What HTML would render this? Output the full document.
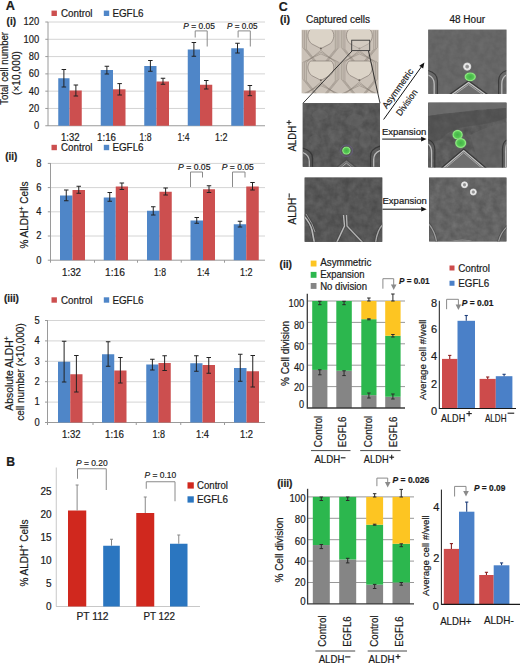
<!DOCTYPE html>
<html><head><meta charset="utf-8"><style>
html,body{margin:0;padding:0;background:#fff;width:520px;height:663px;overflow:hidden}
svg{display:block;font-family:"Liberation Sans", sans-serif}
text{stroke:#1a1a1a;stroke-width:0.2px}
</style></head><body>
<svg width="520" height="663" viewBox="0 0 520 663">
<rect width="520" height="663" fill="#fff"/>
<text x="5.80" y="10.45" font-size="13" text-anchor="start" font-weight="bold" fill="#1a1a1a" textLength="9.20" lengthAdjust="spacingAndGlyphs">A</text>
<rect x="51.50" y="10.60" width="5.40" height="5.40" fill="#cc4f4f"/>
<text x="61.00" y="16.88" font-size="10" text-anchor="start" font-weight="normal" fill="#1a1a1a" textLength="31.50" lengthAdjust="spacingAndGlyphs">Control</text>
<rect x="103.80" y="10.60" width="5.40" height="5.40" fill="#4f86c8"/>
<text x="112.40" y="16.88" font-size="10" text-anchor="start" font-weight="normal" fill="#1a1a1a" textLength="31.20" lengthAdjust="spacingAndGlyphs">EGFL6</text>
<text x="6.60" y="24.58" font-size="10" text-anchor="start" font-weight="bold" fill="#1a1a1a" textLength="9.40" lengthAdjust="spacingAndGlyphs">(i)</text>
<text x="39.20" y="129.13" font-size="10" text-anchor="end" font-weight="normal" fill="#1a1a1a" textLength="5.2" lengthAdjust="spacingAndGlyphs">0</text>
<line x1="45.30" y1="125.75" x2="48.00" y2="125.75" stroke="#9a9a9a" stroke-width="1"/>
<line x1="48.00" y1="108.46" x2="265.00" y2="108.46" stroke="#d4d4d4" stroke-width="1"/>
<text x="39.20" y="111.84" font-size="10" text-anchor="end" font-weight="normal" fill="#1a1a1a" textLength="10.4" lengthAdjust="spacingAndGlyphs">20</text>
<line x1="45.30" y1="108.46" x2="48.00" y2="108.46" stroke="#9a9a9a" stroke-width="1"/>
<line x1="48.00" y1="91.17" x2="265.00" y2="91.17" stroke="#d4d4d4" stroke-width="1"/>
<text x="39.20" y="94.55" font-size="10" text-anchor="end" font-weight="normal" fill="#1a1a1a" textLength="10.4" lengthAdjust="spacingAndGlyphs">40</text>
<line x1="45.30" y1="91.17" x2="48.00" y2="91.17" stroke="#9a9a9a" stroke-width="1"/>
<line x1="48.00" y1="73.88" x2="265.00" y2="73.88" stroke="#d4d4d4" stroke-width="1"/>
<text x="39.20" y="77.25" font-size="10" text-anchor="end" font-weight="normal" fill="#1a1a1a" textLength="10.4" lengthAdjust="spacingAndGlyphs">60</text>
<line x1="45.30" y1="73.88" x2="48.00" y2="73.88" stroke="#9a9a9a" stroke-width="1"/>
<line x1="48.00" y1="56.58" x2="265.00" y2="56.58" stroke="#d4d4d4" stroke-width="1"/>
<text x="39.20" y="59.96" font-size="10" text-anchor="end" font-weight="normal" fill="#1a1a1a" textLength="10.4" lengthAdjust="spacingAndGlyphs">80</text>
<line x1="45.30" y1="56.58" x2="48.00" y2="56.58" stroke="#9a9a9a" stroke-width="1"/>
<line x1="48.00" y1="39.29" x2="265.00" y2="39.29" stroke="#d4d4d4" stroke-width="1"/>
<text x="39.20" y="42.67" font-size="10" text-anchor="end" font-weight="normal" fill="#1a1a1a" textLength="15.6" lengthAdjust="spacingAndGlyphs">100</text>
<line x1="45.30" y1="39.29" x2="48.00" y2="39.29" stroke="#9a9a9a" stroke-width="1"/>
<line x1="48.00" y1="22.00" x2="265.00" y2="22.00" stroke="#d4d4d4" stroke-width="1"/>
<text x="39.20" y="25.38" font-size="10" text-anchor="end" font-weight="normal" fill="#1a1a1a" textLength="15.6" lengthAdjust="spacingAndGlyphs">120</text>
<line x1="45.30" y1="22.00" x2="48.00" y2="22.00" stroke="#9a9a9a" stroke-width="1"/>
<line x1="48.00" y1="22.00" x2="48.00" y2="126.00" stroke="#9a9a9a" stroke-width="1"/>
<line x1="48.00" y1="125.75" x2="265.00" y2="125.75" stroke="#9a9a9a" stroke-width="1"/>
<rect x="58.25" y="78.25" width="11.25" height="47.50" fill="#4f86c8"/>
<rect x="69.50" y="90.50" width="12.25" height="35.25" fill="#cc4f4f"/>
<rect x="100.75" y="70.00" width="12.25" height="55.75" fill="#4f86c8"/>
<rect x="113.00" y="89.30" width="12.50" height="36.45" fill="#cc4f4f"/>
<rect x="144.25" y="66.00" width="12.25" height="59.75" fill="#4f86c8"/>
<rect x="156.50" y="81.50" width="12.50" height="44.25" fill="#cc4f4f"/>
<rect x="187.75" y="49.50" width="12.25" height="76.25" fill="#4f86c8"/>
<rect x="200.00" y="84.75" width="12.25" height="41.00" fill="#cc4f4f"/>
<rect x="231.25" y="48.25" width="12.50" height="77.50" fill="#4f86c8"/>
<rect x="243.75" y="90.50" width="12.00" height="35.25" fill="#cc4f4f"/>
<line x1="63.88" y1="69.50" x2="63.88" y2="87.00" stroke="#222" stroke-width="1"/>
<line x1="61.62" y1="69.50" x2="66.12" y2="69.50" stroke="#222" stroke-width="1"/>
<line x1="61.62" y1="87.00" x2="66.12" y2="87.00" stroke="#222" stroke-width="1"/>
<line x1="75.88" y1="85.00" x2="75.88" y2="96.00" stroke="#222" stroke-width="1"/>
<line x1="73.62" y1="85.00" x2="78.12" y2="85.00" stroke="#222" stroke-width="1"/>
<line x1="73.62" y1="96.00" x2="78.12" y2="96.00" stroke="#222" stroke-width="1"/>
<line x1="106.88" y1="66.25" x2="106.88" y2="74.00" stroke="#222" stroke-width="1"/>
<line x1="104.62" y1="66.25" x2="109.12" y2="66.25" stroke="#222" stroke-width="1"/>
<line x1="104.62" y1="74.00" x2="109.12" y2="74.00" stroke="#222" stroke-width="1"/>
<line x1="119.62" y1="83.60" x2="119.62" y2="95.00" stroke="#222" stroke-width="1"/>
<line x1="117.38" y1="83.60" x2="121.88" y2="83.60" stroke="#222" stroke-width="1"/>
<line x1="117.38" y1="95.00" x2="121.88" y2="95.00" stroke="#222" stroke-width="1"/>
<line x1="150.38" y1="60.50" x2="150.38" y2="71.25" stroke="#222" stroke-width="1"/>
<line x1="148.12" y1="60.50" x2="152.62" y2="60.50" stroke="#222" stroke-width="1"/>
<line x1="148.12" y1="71.25" x2="152.62" y2="71.25" stroke="#222" stroke-width="1"/>
<line x1="163.00" y1="78.25" x2="163.00" y2="84.25" stroke="#222" stroke-width="1"/>
<line x1="160.75" y1="78.25" x2="165.25" y2="78.25" stroke="#222" stroke-width="1"/>
<line x1="160.75" y1="84.25" x2="165.25" y2="84.25" stroke="#222" stroke-width="1"/>
<line x1="193.88" y1="42.50" x2="193.88" y2="56.25" stroke="#222" stroke-width="1"/>
<line x1="191.62" y1="42.50" x2="196.12" y2="42.50" stroke="#222" stroke-width="1"/>
<line x1="191.62" y1="56.25" x2="196.12" y2="56.25" stroke="#222" stroke-width="1"/>
<line x1="206.25" y1="80.50" x2="206.25" y2="89.00" stroke="#222" stroke-width="1"/>
<line x1="204.00" y1="80.50" x2="208.50" y2="80.50" stroke="#222" stroke-width="1"/>
<line x1="204.00" y1="89.00" x2="208.50" y2="89.00" stroke="#222" stroke-width="1"/>
<line x1="237.50" y1="43.25" x2="237.50" y2="53.00" stroke="#222" stroke-width="1"/>
<line x1="235.25" y1="43.25" x2="239.75" y2="43.25" stroke="#222" stroke-width="1"/>
<line x1="235.25" y1="53.00" x2="239.75" y2="53.00" stroke="#222" stroke-width="1"/>
<line x1="249.88" y1="85.50" x2="249.88" y2="95.70" stroke="#222" stroke-width="1"/>
<line x1="247.62" y1="85.50" x2="252.12" y2="85.50" stroke="#222" stroke-width="1"/>
<line x1="247.62" y1="95.70" x2="252.12" y2="95.70" stroke="#222" stroke-width="1"/>
<text x="61.00" y="140.76" font-size="10.5" text-anchor="start" font-weight="normal" fill="#1a1a1a" textLength="18.50" lengthAdjust="spacingAndGlyphs">1:32</text>
<text x="97.00" y="140.76" font-size="10.5" text-anchor="start" font-weight="normal" fill="#1a1a1a" textLength="19.00" lengthAdjust="spacingAndGlyphs">1:16</text>
<text x="139.50" y="140.76" font-size="10.5" text-anchor="start" font-weight="normal" fill="#1a1a1a" textLength="12.00" lengthAdjust="spacingAndGlyphs">1:8</text>
<text x="177.50" y="140.76" font-size="10.5" text-anchor="start" font-weight="normal" fill="#1a1a1a" textLength="12.00" lengthAdjust="spacingAndGlyphs">1:4</text>
<text x="215.00" y="140.76" font-size="10.5" text-anchor="start" font-weight="normal" fill="#1a1a1a" textLength="12.50" lengthAdjust="spacingAndGlyphs">1:2</text>
<text x="183.30" y="29.22" font-size="9" text-anchor="start" font-weight="normal" fill="#1a1a1a" textLength="31.50" lengthAdjust="spacingAndGlyphs"><tspan font-style="italic">P</tspan> = 0.05</text>
<polyline points="195.2,37.5 195.2,30.9 207.2,30.9 207.2,46.5" fill="none" stroke="#8a8a8a" stroke-width="1"/>
<text x="227.00" y="29.22" font-size="9" text-anchor="start" font-weight="normal" fill="#1a1a1a" textLength="30.50" lengthAdjust="spacingAndGlyphs"><tspan font-style="italic">P</tspan> = 0.05</text>
<polyline points="238.1,37.5 238.1,30.9 250.3,30.9 250.3,46.5" fill="none" stroke="#8a8a8a" stroke-width="1"/>
<text x="8.50" y="68.40" font-size="10.8" text-anchor="middle" font-weight="normal" fill="#1a1a1a" textLength="73" lengthAdjust="spacingAndGlyphs" transform="rotate(-90 8.50 68.40)">Total cell number</text>
<text x="19.80" y="73.00" font-size="10.8" text-anchor="middle" font-weight="normal" fill="#1a1a1a" textLength="44" lengthAdjust="spacingAndGlyphs" transform="rotate(-90 19.80 73.00)">(×10,000)</text>
<rect x="51.50" y="144.80" width="5.40" height="5.40" fill="#cc4f4f"/>
<text x="61.00" y="151.08" font-size="10" text-anchor="start" font-weight="normal" fill="#1a1a1a" textLength="31.50" lengthAdjust="spacingAndGlyphs">Control</text>
<rect x="103.80" y="144.80" width="5.40" height="5.40" fill="#4f86c8"/>
<text x="112.40" y="151.08" font-size="10" text-anchor="start" font-weight="normal" fill="#1a1a1a" textLength="31.20" lengthAdjust="spacingAndGlyphs">EGFL6</text>
<text x="5.20" y="160.08" font-size="10" text-anchor="start" font-weight="bold" fill="#1a1a1a" textLength="12.10" lengthAdjust="spacingAndGlyphs">(ii)</text>
<text x="41.50" y="263.58" font-size="10" text-anchor="end" font-weight="normal" fill="#1a1a1a" textLength="5.2" lengthAdjust="spacingAndGlyphs">0</text>
<line x1="47.80" y1="260.20" x2="50.50" y2="260.20" stroke="#9a9a9a" stroke-width="1"/>
<line x1="50.50" y1="236.00" x2="265.00" y2="236.00" stroke="#d4d4d4" stroke-width="1"/>
<text x="41.50" y="239.38" font-size="10" text-anchor="end" font-weight="normal" fill="#1a1a1a" textLength="5.2" lengthAdjust="spacingAndGlyphs">2</text>
<line x1="47.80" y1="236.00" x2="50.50" y2="236.00" stroke="#9a9a9a" stroke-width="1"/>
<line x1="50.50" y1="211.80" x2="265.00" y2="211.80" stroke="#d4d4d4" stroke-width="1"/>
<text x="41.50" y="215.18" font-size="10" text-anchor="end" font-weight="normal" fill="#1a1a1a" textLength="5.2" lengthAdjust="spacingAndGlyphs">4</text>
<line x1="47.80" y1="211.80" x2="50.50" y2="211.80" stroke="#9a9a9a" stroke-width="1"/>
<line x1="50.50" y1="187.60" x2="265.00" y2="187.60" stroke="#d4d4d4" stroke-width="1"/>
<text x="41.50" y="190.98" font-size="10" text-anchor="end" font-weight="normal" fill="#1a1a1a" textLength="5.2" lengthAdjust="spacingAndGlyphs">6</text>
<line x1="47.80" y1="187.60" x2="50.50" y2="187.60" stroke="#9a9a9a" stroke-width="1"/>
<line x1="50.50" y1="163.40" x2="265.00" y2="163.40" stroke="#d4d4d4" stroke-width="1"/>
<text x="41.50" y="166.78" font-size="10" text-anchor="end" font-weight="normal" fill="#1a1a1a" textLength="5.2" lengthAdjust="spacingAndGlyphs">8</text>
<line x1="47.80" y1="163.40" x2="50.50" y2="163.40" stroke="#9a9a9a" stroke-width="1"/>
<line x1="50.50" y1="163.00" x2="50.50" y2="261.00" stroke="#9a9a9a" stroke-width="1"/>
<line x1="50.50" y1="260.20" x2="265.00" y2="260.20" stroke="#9a9a9a" stroke-width="1"/>
<line x1="50.50" y1="260.20" x2="50.50" y2="262.70" stroke="#9a9a9a" stroke-width="1"/>
<line x1="94.50" y1="260.20" x2="94.50" y2="262.70" stroke="#9a9a9a" stroke-width="1"/>
<line x1="137.50" y1="260.20" x2="137.50" y2="262.70" stroke="#9a9a9a" stroke-width="1"/>
<line x1="181.25" y1="260.20" x2="181.25" y2="262.70" stroke="#9a9a9a" stroke-width="1"/>
<line x1="224.50" y1="260.20" x2="224.50" y2="262.70" stroke="#9a9a9a" stroke-width="1"/>
<rect x="60.00" y="195.50" width="12.50" height="64.70" fill="#4f86c8"/>
<rect x="72.50" y="190.00" width="12.50" height="70.20" fill="#cc4f4f"/>
<rect x="103.75" y="197.50" width="12.00" height="62.70" fill="#4f86c8"/>
<rect x="115.75" y="186.50" width="12.25" height="73.70" fill="#cc4f4f"/>
<rect x="147.00" y="210.75" width="12.50" height="49.45" fill="#4f86c8"/>
<rect x="159.50" y="191.75" width="12.25" height="68.45" fill="#cc4f4f"/>
<rect x="190.50" y="220.50" width="12.50" height="39.70" fill="#4f86c8"/>
<rect x="203.00" y="189.25" width="12.00" height="70.95" fill="#cc4f4f"/>
<rect x="233.75" y="224.25" width="12.50" height="35.95" fill="#4f86c8"/>
<rect x="246.25" y="186.50" width="12.50" height="73.70" fill="#cc4f4f"/>
<line x1="66.25" y1="190.00" x2="66.25" y2="200.75" stroke="#222" stroke-width="1"/>
<line x1="64.00" y1="190.00" x2="68.50" y2="190.00" stroke="#222" stroke-width="1"/>
<line x1="64.00" y1="200.75" x2="68.50" y2="200.75" stroke="#222" stroke-width="1"/>
<line x1="78.75" y1="186.25" x2="78.75" y2="193.25" stroke="#222" stroke-width="1"/>
<line x1="76.50" y1="186.25" x2="81.00" y2="186.25" stroke="#222" stroke-width="1"/>
<line x1="76.50" y1="193.25" x2="81.00" y2="193.25" stroke="#222" stroke-width="1"/>
<line x1="109.75" y1="192.50" x2="109.75" y2="201.25" stroke="#222" stroke-width="1"/>
<line x1="107.50" y1="192.50" x2="112.00" y2="192.50" stroke="#222" stroke-width="1"/>
<line x1="107.50" y1="201.25" x2="112.00" y2="201.25" stroke="#222" stroke-width="1"/>
<line x1="121.88" y1="183.00" x2="121.88" y2="189.50" stroke="#222" stroke-width="1"/>
<line x1="119.62" y1="183.00" x2="124.12" y2="183.00" stroke="#222" stroke-width="1"/>
<line x1="119.62" y1="189.50" x2="124.12" y2="189.50" stroke="#222" stroke-width="1"/>
<line x1="153.25" y1="206.75" x2="153.25" y2="215.00" stroke="#222" stroke-width="1"/>
<line x1="151.00" y1="206.75" x2="155.50" y2="206.75" stroke="#222" stroke-width="1"/>
<line x1="151.00" y1="215.00" x2="155.50" y2="215.00" stroke="#222" stroke-width="1"/>
<line x1="165.62" y1="188.00" x2="165.62" y2="195.00" stroke="#222" stroke-width="1"/>
<line x1="163.38" y1="188.00" x2="167.88" y2="188.00" stroke="#222" stroke-width="1"/>
<line x1="163.38" y1="195.00" x2="167.88" y2="195.00" stroke="#222" stroke-width="1"/>
<line x1="196.75" y1="217.50" x2="196.75" y2="223.25" stroke="#222" stroke-width="1"/>
<line x1="194.50" y1="217.50" x2="199.00" y2="217.50" stroke="#222" stroke-width="1"/>
<line x1="194.50" y1="223.25" x2="199.00" y2="223.25" stroke="#222" stroke-width="1"/>
<line x1="209.00" y1="185.75" x2="209.00" y2="192.50" stroke="#222" stroke-width="1"/>
<line x1="206.75" y1="185.75" x2="211.25" y2="185.75" stroke="#222" stroke-width="1"/>
<line x1="206.75" y1="192.50" x2="211.25" y2="192.50" stroke="#222" stroke-width="1"/>
<line x1="240.00" y1="221.25" x2="240.00" y2="227.00" stroke="#222" stroke-width="1"/>
<line x1="237.75" y1="221.25" x2="242.25" y2="221.25" stroke="#222" stroke-width="1"/>
<line x1="237.75" y1="227.00" x2="242.25" y2="227.00" stroke="#222" stroke-width="1"/>
<line x1="252.50" y1="182.50" x2="252.50" y2="190.00" stroke="#222" stroke-width="1"/>
<line x1="250.25" y1="182.50" x2="254.75" y2="182.50" stroke="#222" stroke-width="1"/>
<line x1="250.25" y1="190.00" x2="254.75" y2="190.00" stroke="#222" stroke-width="1"/>
<text x="62.00" y="276.26" font-size="10.5" text-anchor="start" font-weight="normal" fill="#1a1a1a" textLength="19.00" lengthAdjust="spacingAndGlyphs">1:32</text>
<text x="105.00" y="276.26" font-size="10.5" text-anchor="start" font-weight="normal" fill="#1a1a1a" textLength="20.00" lengthAdjust="spacingAndGlyphs">1:16</text>
<text x="154.00" y="276.26" font-size="10.5" text-anchor="start" font-weight="normal" fill="#1a1a1a" textLength="12.00" lengthAdjust="spacingAndGlyphs">1:8</text>
<text x="197.00" y="276.26" font-size="10.5" text-anchor="start" font-weight="normal" fill="#1a1a1a" textLength="12.50" lengthAdjust="spacingAndGlyphs">1:4</text>
<text x="240.00" y="276.26" font-size="10.5" text-anchor="start" font-weight="normal" fill="#1a1a1a" textLength="12.50" lengthAdjust="spacingAndGlyphs">1:2</text>
<text x="178.00" y="170.22" font-size="9" text-anchor="start" font-weight="normal" fill="#1a1a1a" textLength="32.50" lengthAdjust="spacingAndGlyphs"><tspan font-style="italic">P</tspan> = 0.05</text>
<polyline points="190.5,187 190.5,172 202.5,172 202.5,177.5" fill="none" stroke="#8a8a8a" stroke-width="1"/>
<text x="221.75" y="170.22" font-size="9" text-anchor="start" font-weight="normal" fill="#1a1a1a" textLength="32.00" lengthAdjust="spacingAndGlyphs"><tspan font-style="italic">P</tspan> = 0.05</text>
<polyline points="232.5,187 232.5,172 245,172 245,177.5" fill="none" stroke="#8a8a8a" stroke-width="1"/>
<text x="27.50" y="215.00" font-size="10" text-anchor="middle" font-weight="normal" fill="#1a1a1a" transform="rotate(-90 27.50 215.00)">% ALDH<tspan font-size="7.5" dy="-4">+</tspan><tspan dy="4"> Cells</tspan></text>
<rect x="51.50" y="297.30" width="5.40" height="5.40" fill="#cc4f4f"/>
<text x="61.00" y="303.58" font-size="10" text-anchor="start" font-weight="normal" fill="#1a1a1a" textLength="31.50" lengthAdjust="spacingAndGlyphs">Control</text>
<rect x="103.80" y="297.30" width="5.40" height="5.40" fill="#4f86c8"/>
<text x="112.40" y="303.58" font-size="10" text-anchor="start" font-weight="normal" fill="#1a1a1a" textLength="31.20" lengthAdjust="spacingAndGlyphs">EGFL6</text>
<text x="3.90" y="301.68" font-size="10" text-anchor="start" font-weight="bold" fill="#1a1a1a" textLength="15.00" lengthAdjust="spacingAndGlyphs">(iii)</text>
<text x="39.80" y="425.88" font-size="10" text-anchor="end" font-weight="normal" fill="#1a1a1a" textLength="5.2" lengthAdjust="spacingAndGlyphs">0</text>
<line x1="45.00" y1="422.50" x2="47.50" y2="422.50" stroke="#9a9a9a" stroke-width="1"/>
<line x1="47.50" y1="402.10" x2="265.00" y2="402.10" stroke="#d4d4d4" stroke-width="1"/>
<text x="39.80" y="405.48" font-size="10" text-anchor="end" font-weight="normal" fill="#1a1a1a" textLength="5.2" lengthAdjust="spacingAndGlyphs">1</text>
<line x1="45.00" y1="402.10" x2="47.50" y2="402.10" stroke="#9a9a9a" stroke-width="1"/>
<line x1="47.50" y1="381.70" x2="265.00" y2="381.70" stroke="#d4d4d4" stroke-width="1"/>
<text x="39.80" y="385.08" font-size="10" text-anchor="end" font-weight="normal" fill="#1a1a1a" textLength="5.2" lengthAdjust="spacingAndGlyphs">2</text>
<line x1="45.00" y1="381.70" x2="47.50" y2="381.70" stroke="#9a9a9a" stroke-width="1"/>
<line x1="47.50" y1="361.30" x2="265.00" y2="361.30" stroke="#d4d4d4" stroke-width="1"/>
<text x="39.80" y="364.68" font-size="10" text-anchor="end" font-weight="normal" fill="#1a1a1a" textLength="5.2" lengthAdjust="spacingAndGlyphs">3</text>
<line x1="45.00" y1="361.30" x2="47.50" y2="361.30" stroke="#9a9a9a" stroke-width="1"/>
<line x1="47.50" y1="340.90" x2="265.00" y2="340.90" stroke="#d4d4d4" stroke-width="1"/>
<text x="39.80" y="344.28" font-size="10" text-anchor="end" font-weight="normal" fill="#1a1a1a" textLength="5.2" lengthAdjust="spacingAndGlyphs">4</text>
<line x1="45.00" y1="340.90" x2="47.50" y2="340.90" stroke="#9a9a9a" stroke-width="1"/>
<line x1="47.50" y1="320.50" x2="265.00" y2="320.50" stroke="#d4d4d4" stroke-width="1"/>
<text x="39.80" y="323.88" font-size="10" text-anchor="end" font-weight="normal" fill="#1a1a1a" textLength="5.2" lengthAdjust="spacingAndGlyphs">5</text>
<line x1="45.00" y1="320.50" x2="47.50" y2="320.50" stroke="#9a9a9a" stroke-width="1"/>
<line x1="47.50" y1="320.00" x2="47.50" y2="423.00" stroke="#9a9a9a" stroke-width="1"/>
<line x1="47.50" y1="422.50" x2="265.00" y2="422.50" stroke="#9a9a9a" stroke-width="1"/>
<line x1="47.50" y1="422.50" x2="47.50" y2="425.00" stroke="#9a9a9a" stroke-width="1"/>
<line x1="93.00" y1="422.50" x2="93.00" y2="425.00" stroke="#9a9a9a" stroke-width="1"/>
<line x1="136.25" y1="422.50" x2="136.25" y2="425.00" stroke="#9a9a9a" stroke-width="1"/>
<line x1="180.75" y1="422.50" x2="180.75" y2="425.00" stroke="#9a9a9a" stroke-width="1"/>
<line x1="224.50" y1="422.50" x2="224.50" y2="425.00" stroke="#9a9a9a" stroke-width="1"/>
<rect x="58.00" y="361.75" width="12.25" height="60.75" fill="#4f86c8"/>
<rect x="70.25" y="374.25" width="12.25" height="48.25" fill="#cc4f4f"/>
<rect x="102.00" y="354.25" width="12.25" height="68.25" fill="#4f86c8"/>
<rect x="114.25" y="370.50" width="12.25" height="52.00" fill="#cc4f4f"/>
<rect x="146.25" y="364.50" width="12.25" height="58.00" fill="#4f86c8"/>
<rect x="158.50" y="363.00" width="12.25" height="59.50" fill="#cc4f4f"/>
<rect x="190.25" y="363.25" width="12.25" height="59.25" fill="#4f86c8"/>
<rect x="202.50" y="365.00" width="12.50" height="57.50" fill="#cc4f4f"/>
<rect x="234.00" y="368.00" width="12.50" height="54.50" fill="#4f86c8"/>
<rect x="246.50" y="371.25" width="12.50" height="51.25" fill="#cc4f4f"/>
<line x1="64.12" y1="341.25" x2="64.12" y2="382.00" stroke="#222" stroke-width="1"/>
<line x1="61.88" y1="341.25" x2="66.38" y2="341.25" stroke="#222" stroke-width="1"/>
<line x1="61.88" y1="382.00" x2="66.38" y2="382.00" stroke="#222" stroke-width="1"/>
<line x1="76.38" y1="355.50" x2="76.38" y2="392.00" stroke="#222" stroke-width="1"/>
<line x1="74.12" y1="355.50" x2="78.62" y2="355.50" stroke="#222" stroke-width="1"/>
<line x1="74.12" y1="392.00" x2="78.62" y2="392.00" stroke="#222" stroke-width="1"/>
<line x1="108.12" y1="341.75" x2="108.12" y2="366.25" stroke="#222" stroke-width="1"/>
<line x1="105.88" y1="341.75" x2="110.38" y2="341.75" stroke="#222" stroke-width="1"/>
<line x1="105.88" y1="366.25" x2="110.38" y2="366.25" stroke="#222" stroke-width="1"/>
<line x1="120.38" y1="357.50" x2="120.38" y2="383.00" stroke="#222" stroke-width="1"/>
<line x1="118.12" y1="357.50" x2="122.62" y2="357.50" stroke="#222" stroke-width="1"/>
<line x1="118.12" y1="383.00" x2="122.62" y2="383.00" stroke="#222" stroke-width="1"/>
<line x1="152.38" y1="359.25" x2="152.38" y2="370.00" stroke="#222" stroke-width="1"/>
<line x1="150.12" y1="359.25" x2="154.62" y2="359.25" stroke="#222" stroke-width="1"/>
<line x1="150.12" y1="370.00" x2="154.62" y2="370.00" stroke="#222" stroke-width="1"/>
<line x1="164.62" y1="355.75" x2="164.62" y2="370.50" stroke="#222" stroke-width="1"/>
<line x1="162.38" y1="355.75" x2="166.88" y2="355.75" stroke="#222" stroke-width="1"/>
<line x1="162.38" y1="370.50" x2="166.88" y2="370.50" stroke="#222" stroke-width="1"/>
<line x1="196.38" y1="355.75" x2="196.38" y2="371.25" stroke="#222" stroke-width="1"/>
<line x1="194.12" y1="355.75" x2="198.62" y2="355.75" stroke="#222" stroke-width="1"/>
<line x1="194.12" y1="371.25" x2="198.62" y2="371.25" stroke="#222" stroke-width="1"/>
<line x1="208.75" y1="357.50" x2="208.75" y2="373.25" stroke="#222" stroke-width="1"/>
<line x1="206.50" y1="357.50" x2="211.00" y2="357.50" stroke="#222" stroke-width="1"/>
<line x1="206.50" y1="373.25" x2="211.00" y2="373.25" stroke="#222" stroke-width="1"/>
<line x1="240.25" y1="354.25" x2="240.25" y2="381.25" stroke="#222" stroke-width="1"/>
<line x1="238.00" y1="354.25" x2="242.50" y2="354.25" stroke="#222" stroke-width="1"/>
<line x1="238.00" y1="381.25" x2="242.50" y2="381.25" stroke="#222" stroke-width="1"/>
<line x1="252.75" y1="355.50" x2="252.75" y2="387.00" stroke="#222" stroke-width="1"/>
<line x1="250.50" y1="355.50" x2="255.00" y2="355.50" stroke="#222" stroke-width="1"/>
<line x1="250.50" y1="387.00" x2="255.00" y2="387.00" stroke="#222" stroke-width="1"/>
<text x="62.00" y="438.26" font-size="10.5" text-anchor="start" font-weight="normal" fill="#1a1a1a" textLength="18.50" lengthAdjust="spacingAndGlyphs">1:32</text>
<text x="105.00" y="438.26" font-size="10.5" text-anchor="start" font-weight="normal" fill="#1a1a1a" textLength="19.00" lengthAdjust="spacingAndGlyphs">1:16</text>
<text x="152.50" y="438.26" font-size="10.5" text-anchor="start" font-weight="normal" fill="#1a1a1a" textLength="12.50" lengthAdjust="spacingAndGlyphs">1:8</text>
<text x="196.00" y="438.26" font-size="10.5" text-anchor="start" font-weight="normal" fill="#1a1a1a" textLength="13.00" lengthAdjust="spacingAndGlyphs">1:4</text>
<text x="240.00" y="438.26" font-size="10.5" text-anchor="start" font-weight="normal" fill="#1a1a1a" textLength="13.00" lengthAdjust="spacingAndGlyphs">1:2</text>
<text x="12.90" y="373.40" font-size="10.8" text-anchor="middle" font-weight="normal" fill="#1a1a1a" textLength="74.5" lengthAdjust="spacingAndGlyphs" transform="rotate(-90 12.90 373.40)">Absolute ALDH<tspan font-size="7.5" dy="-4">+</tspan></text>
<text x="24.00" y="372.00" font-size="10.8" text-anchor="middle" font-weight="normal" fill="#1a1a1a" textLength="97.5" lengthAdjust="spacingAndGlyphs" transform="rotate(-90 24.00 372.00)">cell number (×10,000)</text>
<text x="6.20" y="465.83" font-size="13.5" text-anchor="start" font-weight="bold" fill="#1a1a1a" textLength="8.80" lengthAdjust="spacingAndGlyphs">B</text>
<line x1="56.25" y1="467.50" x2="56.25" y2="606.50" stroke="#c8c8c8" stroke-width="1"/>
<line x1="56.00" y1="606.50" x2="200.00" y2="606.50" stroke="#c8c8c8" stroke-width="1"/>
<text x="51.50" y="610.08" font-size="10" text-anchor="end" font-weight="normal" fill="#1a1a1a">0</text>
<text x="51.50" y="587.03" font-size="10" text-anchor="end" font-weight="normal" fill="#1a1a1a">5</text>
<text x="51.50" y="563.98" font-size="10" text-anchor="end" font-weight="normal" fill="#1a1a1a">10</text>
<text x="51.50" y="540.93" font-size="10" text-anchor="end" font-weight="normal" fill="#1a1a1a">15</text>
<text x="51.50" y="517.88" font-size="10" text-anchor="end" font-weight="normal" fill="#1a1a1a">20</text>
<text x="51.50" y="494.83" font-size="10" text-anchor="end" font-weight="normal" fill="#1a1a1a">25</text>
<rect x="68.00" y="510.50" width="18.25" height="96.00" fill="#d0281e"/>
<line x1="77.12" y1="510.50" x2="77.12" y2="485.00" stroke="#888" stroke-width="1"/>
<line x1="75.62" y1="485.00" x2="78.62" y2="485.00" stroke="#888" stroke-width="1"/>
<rect x="103.20" y="545.75" width="16.60" height="60.75" fill="#2b76c0"/>
<line x1="111.50" y1="545.75" x2="111.50" y2="539.25" stroke="#888" stroke-width="1"/>
<line x1="110.00" y1="539.25" x2="113.00" y2="539.25" stroke="#888" stroke-width="1"/>
<rect x="136.25" y="513.00" width="18.00" height="93.50" fill="#d0281e"/>
<line x1="145.25" y1="513.00" x2="145.25" y2="497.00" stroke="#888" stroke-width="1"/>
<line x1="143.75" y1="497.00" x2="146.75" y2="497.00" stroke="#888" stroke-width="1"/>
<rect x="170.00" y="543.75" width="17.50" height="62.75" fill="#2b76c0"/>
<line x1="178.75" y1="543.75" x2="178.75" y2="535.00" stroke="#888" stroke-width="1"/>
<line x1="177.25" y1="535.00" x2="180.25" y2="535.00" stroke="#888" stroke-width="1"/>
<text x="75.90" y="465.91" font-size="9.8" text-anchor="start" font-weight="normal" fill="#1a1a1a" textLength="31.70" lengthAdjust="spacingAndGlyphs"><tspan font-style="italic">P</tspan> = 0.20</text>
<polyline points="77.5,478.75 77.5,468.75 106.25,468.75 106.25,490" fill="none" stroke="#8a8a8a" stroke-width="1"/>
<text x="144.50" y="478.31" font-size="9.8" text-anchor="start" font-weight="normal" fill="#1a1a1a" textLength="31.75" lengthAdjust="spacingAndGlyphs"><tspan font-style="italic">P</tspan> = 0.10</text>
<polyline points="146.25,488.75 146.25,481.75 175,481.75 175,501.25" fill="none" stroke="#8a8a8a" stroke-width="1"/>
<rect x="187.50" y="482.30" width="6.30" height="6.30" fill="#d0281e"/>
<text x="197.00" y="488.58" font-size="10" text-anchor="start" font-weight="normal" fill="#1a1a1a" textLength="31.00" lengthAdjust="spacingAndGlyphs">Control</text>
<rect x="187.50" y="496.30" width="6.30" height="6.30" fill="#2b76c0"/>
<text x="197.00" y="502.83" font-size="10" text-anchor="start" font-weight="normal" fill="#1a1a1a" textLength="31.00" lengthAdjust="spacingAndGlyphs">EGFL6</text>
<text x="76.50" y="620.08" font-size="10" text-anchor="start" font-weight="normal" fill="#1a1a1a" textLength="32.00" lengthAdjust="spacingAndGlyphs">PT 112</text>
<text x="143.50" y="620.08" font-size="10" text-anchor="start" font-weight="normal" fill="#1a1a1a" textLength="31.50" lengthAdjust="spacingAndGlyphs">PT 122</text>
<text x="28.00" y="553.00" font-size="10" text-anchor="middle" font-weight="normal" fill="#1a1a1a" transform="rotate(-90 28.00 553.00)">% ALDH<tspan font-size="7.5" dy="-4">+</tspan><tspan dy="4"> Cells</tspan></text>
<text x="278.80" y="10.55" font-size="13" text-anchor="start" font-weight="bold" fill="#1a1a1a" textLength="9.00" lengthAdjust="spacingAndGlyphs">C</text>
<text x="280.00" y="23.28" font-size="10" text-anchor="start" font-weight="bold" fill="#1a1a1a" textLength="10.00" lengthAdjust="spacingAndGlyphs">(i)</text>
<text x="306.00" y="22.58" font-size="10" text-anchor="start" font-weight="normal" fill="#1a1a1a" textLength="64.00" lengthAdjust="spacingAndGlyphs">Captured cells</text>
<text x="449.50" y="22.78" font-size="10" text-anchor="start" font-weight="normal" fill="#1a1a1a" textLength="35.50" lengthAdjust="spacingAndGlyphs">48 Hour</text>
<defs>
<filter id="noise" x="0" y="0" width="100%" height="100%" color-interpolation-filters="sRGB">
  <feTurbulence type="fractalNoise" baseFrequency="0.14" numOctaves="3" seed="3" result="t"/>
  <feColorMatrix in="t" type="matrix" values="1 0 0 0 0  1 0 0 0 0  1 0 0 0 0  0 0 0 0 1" result="n"/>
  <feComposite in="SourceGraphic" in2="n" operator="arithmetic" k1="0" k2="1" k3="0.13" k4="-0.065" result="c"/>
  <feComposite in="c" in2="SourceGraphic" operator="in"/>
</filter>
<radialGradient id="gcell" cx="50%" cy="50%" r="50%">
  <stop offset="0" stop-color="#45b049"/><stop offset="0.6" stop-color="#55c853"/><stop offset="0.85" stop-color="#92ec82"/><stop offset="1" stop-color="#70b070" stop-opacity="0.8"/>
</radialGradient>
<radialGradient id="wcell" cx="50%" cy="50%" r="50%">
  <stop offset="0" stop-color="#8a8a8a"/><stop offset="0.3" stop-color="#9a9a9a"/><stop offset="0.55" stop-color="#f2f2f2"/><stop offset="0.8" stop-color="#d0d0d0"/><stop offset="1" stop-color="#808080" stop-opacity="0.3"/>
</radialGradient>
</defs>
<rect x="301.6" y="29.8" width="77.0" height="63.5" fill="#cbc2b8"/>
<clipPath id="chipclip"><rect x="301.6" y="29.8" width="77.0" height="63.5"/></clipPath>
<g clip-path="url(#chipclip)">
<path d="M302.8,30.3 L302.8,47.4 L314.6,62.0" fill="none" stroke="#857b72" stroke-width="0.45"/>
<path d="M338.9,30.3 L338.9,47.4 L327.1,62.0" fill="none" stroke="#857b72" stroke-width="0.45"/>
<path d="M304.6,30.3 L304.6,48.3 L315.7,62.0" fill="none" stroke="#857b72" stroke-width="0.45"/>
<path d="M337.1,30.3 L337.1,48.3 L326.1,62.0" fill="none" stroke="#857b72" stroke-width="0.45"/>
<path d="M306.4,30.3 L306.4,49.2 L316.7,62.0" fill="none" stroke="#857b72" stroke-width="0.45"/>
<path d="M335.3,30.3 L335.3,49.2 L325.0,62.0" fill="none" stroke="#857b72" stroke-width="0.45"/>
<path d="M306.9,62.0 L320.9,50.3 L334.9,62.0" fill="none" stroke="#857b72" stroke-width="0.45"/>
<path d="M305.1,62.0 L320.9,52.1 L336.7,62.0" fill="none" stroke="#857b72" stroke-width="0.45"/>
<path d="M303.2,62.0 L320.9,53.9 L338.5,62.0" fill="none" stroke="#857b72" stroke-width="0.45"/>
<path d="M310.6,29.3 L331.1,29.3 C335.1,32.8 334.6,39.8 330.1,43.8 L320.9,48.6 L311.6,43.8 C307.1,39.8 306.6,32.8 310.6,29.3 Z" fill="#dbd3c7" stroke="#7a7069" stroke-width="0.6"/>
<circle cx="320.9" cy="48.4" r="1" fill="#6a625b"/>
<path d="M302.8,62.0 L302.8,79.1 L314.6,93.8" fill="none" stroke="#857b72" stroke-width="0.45"/>
<path d="M338.9,62.0 L338.9,79.1 L327.1,93.8" fill="none" stroke="#857b72" stroke-width="0.45"/>
<path d="M304.6,62.0 L304.6,80.0 L315.7,93.8" fill="none" stroke="#857b72" stroke-width="0.45"/>
<path d="M337.1,62.0 L337.1,80.0 L326.1,93.8" fill="none" stroke="#857b72" stroke-width="0.45"/>
<path d="M306.4,62.0 L306.4,81.0 L316.7,93.8" fill="none" stroke="#857b72" stroke-width="0.45"/>
<path d="M335.3,62.0 L335.3,81.0 L325.0,93.8" fill="none" stroke="#857b72" stroke-width="0.45"/>
<path d="M306.9,93.8 L320.9,82.0 L334.9,93.8" fill="none" stroke="#857b72" stroke-width="0.45"/>
<path d="M305.1,93.8 L320.9,83.8 L336.7,93.8" fill="none" stroke="#857b72" stroke-width="0.45"/>
<path d="M303.2,93.8 L320.9,85.6 L338.5,93.8" fill="none" stroke="#857b72" stroke-width="0.45"/>
<path d="M310.6,61.0 L331.1,61.0 C335.1,64.5 334.6,71.5 330.1,75.5 L320.9,80.3 L311.6,75.5 C307.1,71.5 306.6,64.5 310.6,61.0 Z" fill="#dbd3c7" stroke="#7a7069" stroke-width="0.6"/>
<circle cx="320.9" cy="80.2" r="1" fill="#6a625b"/>
<path d="M341.3,30.3 L341.3,47.4 L353.1,62.0" fill="none" stroke="#857b72" stroke-width="0.45"/>
<path d="M377.4,30.3 L377.4,47.4 L365.6,62.0" fill="none" stroke="#857b72" stroke-width="0.45"/>
<path d="M343.1,30.3 L343.1,48.3 L354.2,62.0" fill="none" stroke="#857b72" stroke-width="0.45"/>
<path d="M375.6,30.3 L375.6,48.3 L364.6,62.0" fill="none" stroke="#857b72" stroke-width="0.45"/>
<path d="M344.9,30.3 L344.9,49.2 L355.2,62.0" fill="none" stroke="#857b72" stroke-width="0.45"/>
<path d="M373.8,30.3 L373.8,49.2 L363.5,62.0" fill="none" stroke="#857b72" stroke-width="0.45"/>
<path d="M345.4,62.0 L359.4,50.3 L373.4,62.0" fill="none" stroke="#857b72" stroke-width="0.45"/>
<path d="M343.6,62.0 L359.4,52.1 L375.2,62.0" fill="none" stroke="#857b72" stroke-width="0.45"/>
<path d="M341.8,62.0 L359.4,53.9 L377.0,62.0" fill="none" stroke="#857b72" stroke-width="0.45"/>
<path d="M349.1,29.3 L369.6,29.3 C373.6,32.8 373.1,39.8 368.6,43.8 L359.4,48.6 L350.1,43.8 C345.6,39.8 345.1,32.8 349.1,29.3 Z" fill="#dbd3c7" stroke="#7a7069" stroke-width="0.6"/>
<circle cx="359.4" cy="48.4" r="1" fill="#6a625b"/>
<path d="M341.3,62.0 L341.3,79.1 L353.1,93.8" fill="none" stroke="#857b72" stroke-width="0.45"/>
<path d="M377.4,62.0 L377.4,79.1 L365.6,93.8" fill="none" stroke="#857b72" stroke-width="0.45"/>
<path d="M343.1,62.0 L343.1,80.0 L354.2,93.8" fill="none" stroke="#857b72" stroke-width="0.45"/>
<path d="M375.6,62.0 L375.6,80.0 L364.6,93.8" fill="none" stroke="#857b72" stroke-width="0.45"/>
<path d="M344.9,62.0 L344.9,81.0 L355.2,93.8" fill="none" stroke="#857b72" stroke-width="0.45"/>
<path d="M373.8,62.0 L373.8,81.0 L363.5,93.8" fill="none" stroke="#857b72" stroke-width="0.45"/>
<path d="M345.4,93.8 L359.4,82.0 L373.4,93.8" fill="none" stroke="#857b72" stroke-width="0.45"/>
<path d="M343.6,93.8 L359.4,83.8 L375.2,93.8" fill="none" stroke="#857b72" stroke-width="0.45"/>
<path d="M341.8,93.8 L359.4,85.6 L377.0,93.8" fill="none" stroke="#857b72" stroke-width="0.45"/>
<path d="M349.1,61.0 L369.6,61.0 C373.6,64.5 373.1,71.5 368.6,75.5 L359.4,80.3 L350.1,75.5 C345.6,71.5 345.1,64.5 349.1,61.0 Z" fill="#dbd3c7" stroke="#7a7069" stroke-width="0.6"/>
<circle cx="359.4" cy="80.2" r="1" fill="#6a625b"/>
</g>
<rect x="351.7" y="40.2" width="18" height="10.4" fill="#cbc3bb" fill-opacity="0.5" stroke="#3a3a3a" stroke-width="0.9"/>
<line x1="352.00" y1="51.00" x2="303.00" y2="103.20" stroke="#222" stroke-width="0.9"/>
<line x1="368.50" y1="51.00" x2="380.00" y2="103.20" stroke="#222" stroke-width="0.9"/>
<clipPath id="c1"><rect x="302.7" y="103.2" width="77.3" height="63.6"/></clipPath>
<rect x="302.7" y="103.2" width="77.3" height="63.6" fill="#585858"/>
<rect x="302.7" y="103.2" width="77.3" height="63.6" fill="#585858" filter="url(#noise)" opacity="1.0"/>
<g clip-path="url(#c1)">
<ellipse cx="320" cy="115" rx="8" ry="5" fill="#676767" opacity="0.5"/>
<ellipse cx="355" cy="120" rx="9" ry="6" fill="#676767" opacity="0.45"/>
<ellipse cx="335" cy="135" rx="7" ry="5" fill="#676767" opacity="0.4"/>
<ellipse cx="365" cy="140" rx="6" ry="8" fill="#676767" opacity="0.45"/>
<ellipse cx="315" cy="140" rx="6" ry="5" fill="#676767" opacity="0.35"/>
<ellipse cx="345" cy="108" rx="7" ry="3" fill="#676767" opacity="0.35"/>
<path d="M302.7,148.0 Q313.0,151.0 312.5,159.0 L312.5,170.0" fill="none" stroke="#2e2e2e" stroke-width="1.2" opacity="0.75"/>
<path d="M302.7,152.5 Q309.5,155.0 309.3,162.0 L309.3,170.0" fill="none" stroke="#bcbcbc" stroke-width="1.3"/>
<path d="M380.0,146.0 Q370.0,149.0 370.5,157.0 L370.5,170.0" fill="none" stroke="#2e2e2e" stroke-width="1.2" opacity="0.75"/>
<path d="M380.0,150.5 Q373.5,153.0 373.7,160.0 L373.7,170.0" fill="none" stroke="#bcbcbc" stroke-width="1.3"/>
<path d="M335.8,168.0 L346.4,159.5 L357.0,168.0 Z" fill="#5e5e5e"/>
<path d="M335.8,168.0 L346.4,159.5 L357.0,168.0" fill="none" stroke="#4a4a4a" stroke-width="1.3" opacity="0.8"/>
<path d="M337.8,168.0 L346.4,161.1 L355.0,168.0" fill="none" stroke="#7c7c7c" stroke-width="1.1"/>
<path d="M340.3,168.0 L346.4,163.1 L352.5,168.0" fill="none" stroke="#a8a8a8" stroke-width="1.0"/>
</g>
<ellipse cx="346.4" cy="150.8" rx="6.2" ry="5.8" fill="none" stroke="#6a5a8a" stroke-width="1" opacity="0.7"/>
<ellipse cx="346.4" cy="150.6" rx="4.4" ry="4.2" fill="url(#gcell)"/>
<clipPath id="c2"><rect x="428.2" y="29.6" width="78.3" height="64.3"/></clipPath>
<rect x="428.2" y="29.6" width="78.3" height="64.3" fill="#666666"/>
<rect x="428.2" y="29.6" width="78.3" height="64.3" fill="#666666" filter="url(#noise)" opacity="0.5"/>
<g clip-path="url(#c2)">
<path d="M447.6,96.0 L468.6,80.9 L489.6,96.0 Z" fill="#6e6e6e"/>
<path d="M447.6,96.0 L468.6,80.9 L489.6,96.0" fill="none" stroke="#2e2e2e" stroke-width="1.3" opacity="0.8"/>
<path d="M449.9,96.0 L468.6,82.5 L487.4,96.0" fill="none" stroke="#c4c4c4" stroke-width="1.1"/>
<path d="M452.6,96.0 L468.6,84.5 L484.6,96.0" fill="none" stroke="#a8a8a8" stroke-width="1.0"/>
<path d="M428.2,70.5 Q437.9,73.5 437.4,81.5 L437.4,96.0" fill="none" stroke="#2e2e2e" stroke-width="1.2" opacity="0.75"/>
<path d="M428.2,75.0 Q434.4,77.5 434.2,84.5 L434.2,96.0" fill="none" stroke="#bcbcbc" stroke-width="1.3"/>
<path d="M506.5,70.5 Q498.1,73.5 498.6,81.5 L498.6,96.0" fill="none" stroke="#2e2e2e" stroke-width="1.2" opacity="0.75"/>
<path d="M506.5,75.0 Q501.6,77.5 501.8,84.5 L501.8,96.0" fill="none" stroke="#bcbcbc" stroke-width="1.3"/>
</g>
<circle cx="467.2" cy="66.6" r="4.6" fill="url(#wcell)"/>
<ellipse cx="470.2" cy="76.8" rx="5.9" ry="4.6" fill="url(#gcell)"/>
<clipPath id="c3"><rect x="428.2" y="102.6" width="78.3" height="64.9"/></clipPath>
<rect x="428.2" y="102.6" width="78.3" height="64.9" fill="#5b5b5b"/>
<rect x="428.2" y="102.6" width="78.3" height="64.9" fill="#5b5b5b" filter="url(#noise)" opacity="1.0"/>
<g clip-path="url(#c3)">
<path d="M428.2,102.6 L506.5,102.6 L506.5,108 Q480,109 460,112 Q440,114 428.2,116 Z" fill="#6e6e6e" opacity="0.8"/>
<path d="M428.2,116 Q445,113 465,112 Q485,110 506.5,108 L506.5,118 Q490,124 470,126 Q450,128 440,140 L428.2,142 Z" fill="#4c4c4c" opacity="0.55"/>
<path d="M470,135 Q490,125 506.5,122 L506.5,168 L480,168 Z" fill="#686868" opacity="0.5"/>
<path d="M439.1,170.0 L463.7,149.1 L488.3,170.0 Z" fill="#6e6e6e"/>
<path d="M439.1,170.0 L463.7,149.1 L488.3,170.0" fill="none" stroke="#2e2e2e" stroke-width="1.3" opacity="0.8"/>
<path d="M441.0,170.0 L463.7,150.7 L486.4,170.0" fill="none" stroke="#c4c4c4" stroke-width="1.1"/>
<path d="M443.3,170.0 L463.7,152.7 L484.1,170.0" fill="none" stroke="#a8a8a8" stroke-width="1.0"/>
<path d="M428.2,139.5 Q435.3,142.5 434.8,150.5 L434.8,170.0" fill="none" stroke="#2e2e2e" stroke-width="1.2" opacity="0.75"/>
<path d="M428.2,144.0 Q431.8,146.5 431.6,153.5 L431.6,170.0" fill="none" stroke="#bcbcbc" stroke-width="1.3"/>
<path d="M506.5,140.0 Q502.0,143.0 502.5,151.0 L502.5,170.0" fill="none" stroke="#2e2e2e" stroke-width="1.2" opacity="0.75"/>
<path d="M506.5,144.5 Q505.5,147.0 505.7,154.0 L505.7,170.0" fill="none" stroke="#bcbcbc" stroke-width="1.3"/>
</g>
<ellipse cx="457.6" cy="134.7" rx="5.4" ry="5" fill="url(#gcell)"/>
<ellipse cx="460.7" cy="143" rx="5.8" ry="5.2" fill="url(#gcell)"/>
<clipPath id="c4"><rect x="304.6" y="177.5" width="77.7" height="64.3"/></clipPath>
<rect x="304.6" y="177.5" width="77.7" height="64.3" fill="#565656"/>
<rect x="304.6" y="177.5" width="77.7" height="64.3" fill="#565656" filter="url(#noise)" opacity="1.0"/>
<g clip-path="url(#c4)">
<path d="M302,214 Q310,222 312,230 L314.6,244" fill="none" stroke="#3c3c3c" stroke-width="3.2" opacity="0.45"/>
<path d="M302,214 Q310,222 312,230 L314.6,244" fill="none" stroke="#b8b8b8" stroke-width="1.6"/>
<path d="M306,214 Q313,224 315,232" fill="none" stroke="#3c3c3c" stroke-width="2.6" opacity="0.45"/>
<path d="M306,214 Q313,224 315,232" fill="none" stroke="#9a9a9a" stroke-width="1.0"/>
<path d="M343.5,215 L344.5,226 L336,244" fill="none" stroke="#3c3c3c" stroke-width="3.0" opacity="0.45"/>
<path d="M343.5,215 L344.5,226 L336,244" fill="none" stroke="#b8b8b8" stroke-width="1.4"/>
<path d="M346.5,215 L347,226 L364,244" fill="none" stroke="#3c3c3c" stroke-width="3.0" opacity="0.45"/>
<path d="M346.5,215 L347,226 L364,244" fill="none" stroke="#b0b0b0" stroke-width="1.4"/>
<path d="M386,221.6 Q377,228 375.4,244" fill="none" stroke="#3c3c3c" stroke-width="3.0" opacity="0.45"/>
<path d="M386,221.6 Q377,228 375.4,244" fill="none" stroke="#a8a8a8" stroke-width="1.4"/>
</g>
<clipPath id="c5"><rect x="429.1" y="177.5" width="77.4" height="64"/></clipPath>
<rect x="429.1" y="177.5" width="77.4" height="64" fill="#646464"/>
<rect x="429.1" y="177.5" width="77.4" height="64" fill="#646464" filter="url(#noise)" opacity="1.0"/>
<g clip-path="url(#c5)">
<path d="M427,222 Q435,230 437,244" fill="none" stroke="#3c3c3c" stroke-width="2.8" opacity="0.45"/>
<path d="M427,222 Q435,230 437,244" fill="none" stroke="#9e9e9e" stroke-width="1.2"/>
<path d="M509,225 Q500,232 498,244" fill="none" stroke="#3c3c3c" stroke-width="2.8" opacity="0.45"/>
<path d="M509,225 Q500,232 498,244" fill="none" stroke="#9e9e9e" stroke-width="1.2"/>
<path d="M445,244 Q462,236 480,244" fill="none" stroke="#8e8e8e" stroke-width="1.2"/>
</g>
<circle cx="464.5" cy="184.8" r="3.9" fill="url(#wcell)"/>
<circle cx="473.3" cy="192" r="3.9" fill="url(#wcell)"/>
<text x="295.60" y="151.60" font-size="10" text-anchor="start" font-weight="normal" fill="#1a1a1a" textLength="25.8" lengthAdjust="spacingAndGlyphs" transform="rotate(-90 295.60 151.60)">ALDH</text>
<line x1="286.60" y1="122.40" x2="291.40" y2="122.40" stroke="#1a1a1a" stroke-width="1.0"/>
<line x1="289.00" y1="120.00" x2="289.00" y2="124.80" stroke="#1a1a1a" stroke-width="1.0"/>
<text x="295.80" y="224.40" font-size="10" text-anchor="start" font-weight="normal" fill="#1a1a1a" textLength="26.6" lengthAdjust="spacingAndGlyphs" transform="rotate(-90 295.80 224.40)">ALDH</text>
<line x1="289.20" y1="193.40" x2="289.20" y2="197.60" stroke="#1a1a1a" stroke-width="1.0"/>
<line x1="383.60" y1="119.50" x2="421.20" y2="67.07" stroke="#111" stroke-width="1"/>
<polygon points="424.40,62.60 423.15,68.47 419.24,65.67" fill="#111"/>
<line x1="382.20" y1="139.10" x2="421.10" y2="139.10" stroke="#111" stroke-width="1"/>
<polygon points="426.60,139.10 421.10,141.50 421.10,136.70" fill="#111"/>
<line x1="382.50" y1="209.20" x2="421.20" y2="209.20" stroke="#111" stroke-width="1"/>
<polygon points="426.70,209.20 421.20,211.60 421.20,206.80" fill="#111"/>
<text x="381.90" y="134.52" font-size="9" text-anchor="start" font-weight="normal" fill="#1a1a1a" textLength="44.40" lengthAdjust="spacingAndGlyphs">Expansion</text>
<text x="382.50" y="203.82" font-size="9" text-anchor="start" font-weight="normal" fill="#1a1a1a" textLength="44.40" lengthAdjust="spacingAndGlyphs">Expansion</text>
<text x="400.30" y="90.30" font-size="9" text-anchor="middle" font-weight="normal" fill="#1a1a1a" textLength="46.5" lengthAdjust="spacingAndGlyphs" transform="rotate(-54.4 400.30 90.30)">Asymmetric</text>
<text x="409.20" y="104.40" font-size="9" text-anchor="middle" font-weight="normal" fill="#1a1a1a" textLength="30" lengthAdjust="spacingAndGlyphs" transform="rotate(-54.4 409.20 104.40)">Division</text>
<text x="279.50" y="267.83" font-size="10" text-anchor="start" font-weight="bold" fill="#1a1a1a" textLength="12.50" lengthAdjust="spacingAndGlyphs">(ii)</text>
<rect x="310.70" y="260.60" width="5.80" height="5.90" fill="#fdc522"/>
<text x="320.20" y="266.08" font-size="10" text-anchor="start" font-weight="normal" fill="#1a1a1a" textLength="51.20" lengthAdjust="spacingAndGlyphs">Asymmetric</text>
<rect x="310.70" y="271.90" width="5.80" height="5.90" fill="#2cb74e"/>
<text x="320.20" y="278.08" font-size="10" text-anchor="start" font-weight="normal" fill="#1a1a1a" textLength="44.30" lengthAdjust="spacingAndGlyphs">Expansion</text>
<rect x="310.70" y="283.00" width="5.80" height="5.90" fill="#858585"/>
<text x="320.20" y="289.88" font-size="10" text-anchor="start" font-weight="normal" fill="#1a1a1a" textLength="46.80" lengthAdjust="spacingAndGlyphs">No division</text>
<rect x="449.50" y="265.50" width="5.00" height="5.00" fill="#cd4b4b"/>
<text x="458.25" y="271.58" font-size="10" text-anchor="start" font-weight="normal" fill="#1a1a1a" textLength="31.75" lengthAdjust="spacingAndGlyphs">Control</text>
<rect x="449.50" y="280.75" width="5.00" height="5.00" fill="#4a80c8"/>
<text x="458.25" y="286.83" font-size="10" text-anchor="start" font-weight="normal" fill="#1a1a1a" textLength="31.00" lengthAdjust="spacingAndGlyphs">EGFL6</text>
<line x1="307.30" y1="386.60" x2="405.00" y2="386.60" stroke="#8c8c8c" stroke-width="0.9"/>
<line x1="307.30" y1="365.20" x2="405.00" y2="365.20" stroke="#8c8c8c" stroke-width="0.9"/>
<line x1="307.30" y1="343.80" x2="405.00" y2="343.80" stroke="#8c8c8c" stroke-width="0.9"/>
<line x1="307.30" y1="322.40" x2="405.00" y2="322.40" stroke="#8c8c8c" stroke-width="0.9"/>
<line x1="307.30" y1="301.00" x2="405.00" y2="301.00" stroke="#8c8c8c" stroke-width="0.9"/>
<rect x="312.20" y="369.91" width="15.20" height="38.09" fill="#858585"/>
<rect x="312.20" y="301.00" width="15.20" height="68.91" fill="#2cb74e"/>
<line x1="319.80" y1="301.30" x2="319.80" y2="304.70" stroke="#2a2a2a" stroke-width="1"/>
<line x1="318.05" y1="301.30" x2="321.55" y2="301.30" stroke="#2a2a2a" stroke-width="1"/>
<line x1="318.05" y1="304.70" x2="321.55" y2="304.70" stroke="#2a2a2a" stroke-width="1"/>
<line x1="319.80" y1="369.80" x2="319.80" y2="374.80" stroke="#2a2a2a" stroke-width="1"/>
<line x1="318.05" y1="369.80" x2="321.55" y2="369.80" stroke="#2a2a2a" stroke-width="1"/>
<line x1="318.05" y1="374.80" x2="321.55" y2="374.80" stroke="#2a2a2a" stroke-width="1"/>
<rect x="336.30" y="370.76" width="15.50" height="37.24" fill="#858585"/>
<rect x="336.30" y="301.00" width="15.50" height="69.76" fill="#2cb74e"/>
<line x1="344.05" y1="301.30" x2="344.05" y2="304.70" stroke="#2a2a2a" stroke-width="1"/>
<line x1="342.30" y1="301.30" x2="345.80" y2="301.30" stroke="#2a2a2a" stroke-width="1"/>
<line x1="342.30" y1="304.70" x2="345.80" y2="304.70" stroke="#2a2a2a" stroke-width="1"/>
<line x1="344.05" y1="370.80" x2="344.05" y2="375.60" stroke="#2a2a2a" stroke-width="1"/>
<line x1="342.30" y1="370.80" x2="345.80" y2="370.80" stroke="#2a2a2a" stroke-width="1"/>
<line x1="342.30" y1="375.60" x2="345.80" y2="375.60" stroke="#2a2a2a" stroke-width="1"/>
<rect x="361.30" y="395.16" width="15.20" height="12.84" fill="#858585"/>
<rect x="361.30" y="319.19" width="15.20" height="75.97" fill="#2cb74e"/>
<rect x="361.30" y="301.00" width="15.20" height="18.19" fill="#fdc522"/>
<line x1="368.90" y1="298.00" x2="368.90" y2="301.00" stroke="#2a2a2a" stroke-width="1"/>
<line x1="367.15" y1="298.00" x2="370.65" y2="298.00" stroke="#2a2a2a" stroke-width="1"/>
<line x1="367.15" y1="301.00" x2="370.65" y2="301.00" stroke="#2a2a2a" stroke-width="1"/>
<line x1="368.90" y1="318.80" x2="368.90" y2="319.80" stroke="#2a2a2a" stroke-width="1"/>
<line x1="367.15" y1="318.80" x2="370.65" y2="318.80" stroke="#2a2a2a" stroke-width="1"/>
<line x1="367.15" y1="319.80" x2="370.65" y2="319.80" stroke="#2a2a2a" stroke-width="1"/>
<line x1="368.90" y1="393.00" x2="368.90" y2="398.00" stroke="#2a2a2a" stroke-width="1"/>
<line x1="367.15" y1="393.00" x2="370.65" y2="393.00" stroke="#2a2a2a" stroke-width="1"/>
<line x1="367.15" y1="398.00" x2="370.65" y2="398.00" stroke="#2a2a2a" stroke-width="1"/>
<rect x="385.20" y="396.76" width="15.40" height="11.24" fill="#858585"/>
<rect x="385.20" y="335.77" width="15.40" height="60.99" fill="#2cb74e"/>
<rect x="385.20" y="301.00" width="15.40" height="34.77" fill="#fdc522"/>
<line x1="392.90" y1="294.00" x2="392.90" y2="301.00" stroke="#2a2a2a" stroke-width="1"/>
<line x1="391.15" y1="294.00" x2="394.65" y2="294.00" stroke="#2a2a2a" stroke-width="1"/>
<line x1="391.15" y1="301.00" x2="394.65" y2="301.00" stroke="#2a2a2a" stroke-width="1"/>
<line x1="392.90" y1="334.50" x2="392.90" y2="337.00" stroke="#2a2a2a" stroke-width="1"/>
<line x1="391.15" y1="334.50" x2="394.65" y2="334.50" stroke="#2a2a2a" stroke-width="1"/>
<line x1="391.15" y1="337.00" x2="394.65" y2="337.00" stroke="#2a2a2a" stroke-width="1"/>
<line x1="392.90" y1="394.00" x2="392.90" y2="399.00" stroke="#2a2a2a" stroke-width="1"/>
<line x1="391.15" y1="394.00" x2="394.65" y2="394.00" stroke="#2a2a2a" stroke-width="1"/>
<line x1="391.15" y1="399.00" x2="394.65" y2="399.00" stroke="#2a2a2a" stroke-width="1"/>
<line x1="307.30" y1="293.80" x2="307.30" y2="408.50" stroke="#3a3a3a" stroke-width="1.3"/>
<line x1="307.30" y1="408.00" x2="405.00" y2="408.00" stroke="#3a3a3a" stroke-width="1.3"/>
<text x="288.50" y="306.74" font-size="11" text-anchor="start" font-weight="normal" fill="#1a1a1a" textLength="15.70" lengthAdjust="spacingAndGlyphs">100</text>
<text x="293.90" y="328.54" font-size="11" text-anchor="start" font-weight="normal" fill="#1a1a1a" textLength="10.30" lengthAdjust="spacingAndGlyphs">80</text>
<text x="293.90" y="349.74" font-size="11" text-anchor="start" font-weight="normal" fill="#1a1a1a" textLength="10.30" lengthAdjust="spacingAndGlyphs">60</text>
<text x="293.90" y="370.54" font-size="11" text-anchor="start" font-weight="normal" fill="#1a1a1a" textLength="10.30" lengthAdjust="spacingAndGlyphs">40</text>
<text x="293.90" y="391.24" font-size="11" text-anchor="start" font-weight="normal" fill="#1a1a1a" textLength="10.30" lengthAdjust="spacingAndGlyphs">20</text>
<text x="299.10" y="408.34" font-size="11" text-anchor="start" font-weight="normal" fill="#1a1a1a" textLength="5.10" lengthAdjust="spacingAndGlyphs">0</text>
<text x="288.60" y="353.50" font-size="10" text-anchor="middle" font-weight="normal" fill="#1a1a1a" transform="rotate(-90 288.60 353.50)">% Cell division</text>
<text x="322.20" y="447.20" font-size="10.3" text-anchor="start" font-weight="normal" fill="#1a1a1a" textLength="31.5" lengthAdjust="spacingAndGlyphs" transform="rotate(-90 322.20 447.20)">Control</text>
<text x="346.00" y="447.20" font-size="10.3" text-anchor="start" font-weight="normal" fill="#1a1a1a" textLength="30.5" lengthAdjust="spacingAndGlyphs" transform="rotate(-90 346.00 447.20)">EGFL6</text>
<text x="372.00" y="447.20" font-size="10.3" text-anchor="start" font-weight="normal" fill="#1a1a1a" textLength="31.5" lengthAdjust="spacingAndGlyphs" transform="rotate(-90 372.00 447.20)">Control</text>
<text x="396.70" y="447.20" font-size="10.3" text-anchor="start" font-weight="normal" fill="#1a1a1a" textLength="30.5" lengthAdjust="spacingAndGlyphs" transform="rotate(-90 396.70 447.20)">EGFL6</text>
<line x1="311.00" y1="450.60" x2="350.50" y2="450.60" stroke="#333" stroke-width="0.9"/>
<line x1="360.20" y1="450.60" x2="400.60" y2="450.60" stroke="#333" stroke-width="0.9"/>
<text x="314.40" y="463.29" font-size="10.3" text-anchor="start" font-weight="normal" fill="#1a1a1a" textLength="25.80" lengthAdjust="spacingAndGlyphs">ALDH</text>
<line x1="340.80" y1="457.80" x2="345.50" y2="457.80" stroke="#1a1a1a" stroke-width="1.1"/>
<text x="363.80" y="463.29" font-size="10.3" text-anchor="start" font-weight="normal" fill="#1a1a1a" textLength="24.80" lengthAdjust="spacingAndGlyphs">ALDH</text>
<line x1="389.30" y1="457.20" x2="394.10" y2="457.20" stroke="#1a1a1a" stroke-width="1.1"/>
<line x1="391.70" y1="454.80" x2="391.70" y2="459.60" stroke="#1a1a1a" stroke-width="1.1"/>
<polyline points="382.9,288.7 382.9,278.7 393.7,278.7 393.7,285" fill="none" stroke="#8a8a8a" stroke-width="1"/>
<polygon points="393.7,290 390.9,284.5 396.5,284.5" fill="#8a8a8a"/>
<text x="399.00" y="284.12" font-size="9" text-anchor="start" font-weight="bold" fill="#1a1a1a" textLength="30.60" lengthAdjust="spacingAndGlyphs"><tspan font-style="italic">P</tspan> = 0.01</text>
<rect x="442.00" y="358.90" width="15.50" height="49.60" fill="#cd4b4b"/>
<rect x="457.50" y="320.80" width="17.50" height="87.70" fill="#4a80c8"/>
<rect x="479.60" y="378.90" width="16.20" height="29.60" fill="#cd4b4b"/>
<rect x="495.80" y="376.20" width="16.60" height="32.30" fill="#4a80c8"/>
<line x1="449.75" y1="358.90" x2="449.75" y2="355.40" stroke="#8a2020" stroke-width="1.1"/>
<line x1="448.15" y1="355.40" x2="451.35" y2="355.40" stroke="#8a2020" stroke-width="1.1"/>
<line x1="466.25" y1="320.80" x2="466.25" y2="315.50" stroke="#1f3f7a" stroke-width="1.1"/>
<line x1="464.65" y1="315.50" x2="467.85" y2="315.50" stroke="#1f3f7a" stroke-width="1.1"/>
<line x1="487.70" y1="378.90" x2="487.70" y2="377.00" stroke="#8a2020" stroke-width="1.1"/>
<line x1="486.10" y1="377.00" x2="489.30" y2="377.00" stroke="#8a2020" stroke-width="1.1"/>
<line x1="504.10" y1="376.20" x2="504.10" y2="374.30" stroke="#1f3f7a" stroke-width="1.1"/>
<line x1="502.50" y1="374.30" x2="505.70" y2="374.30" stroke="#1f3f7a" stroke-width="1.1"/>
<line x1="439.30" y1="300.80" x2="439.30" y2="409.00" stroke="#1a1a1a" stroke-width="1.0"/>
<line x1="439.30" y1="408.50" x2="516.00" y2="408.50" stroke="#1a1a1a" stroke-width="1.1"/>
<text x="437.10" y="306.94" font-size="11" text-anchor="end" font-weight="normal" fill="#1a1a1a">8</text>
<text x="437.10" y="333.44" font-size="11" text-anchor="end" font-weight="normal" fill="#1a1a1a">6</text>
<text x="437.10" y="360.44" font-size="11" text-anchor="end" font-weight="normal" fill="#1a1a1a">4</text>
<text x="437.10" y="388.14" font-size="11" text-anchor="end" font-weight="normal" fill="#1a1a1a">2</text>
<text x="437.10" y="414.74" font-size="11" text-anchor="end" font-weight="normal" fill="#1a1a1a">0</text>
<text x="425.60" y="359.80" font-size="9.7" text-anchor="middle" font-weight="normal" fill="#1a1a1a" transform="rotate(-90 425.60 359.80)">Average cell #/well</text>
<text x="441.00" y="421.76" font-size="10.5" text-anchor="start" font-weight="normal" fill="#1a1a1a" textLength="24.20" lengthAdjust="spacingAndGlyphs">ALDH</text>
<line x1="466.40" y1="413.60" x2="471.80" y2="413.60" stroke="#1a1a1a" stroke-width="1.1"/>
<line x1="469.10" y1="410.90" x2="469.10" y2="416.30" stroke="#1a1a1a" stroke-width="1.1"/>
<text x="484.90" y="421.76" font-size="10.5" text-anchor="start" font-weight="normal" fill="#1a1a1a" textLength="21.60" lengthAdjust="spacingAndGlyphs">ALDH</text>
<line x1="507.60" y1="413.20" x2="514.20" y2="413.20" stroke="#1a1a1a" stroke-width="1.1"/>
<polyline points="446.6,309.2 446.6,299.3 458.4,299.3 458.4,305" fill="none" stroke="#8a8a8a" stroke-width="1"/>
<polygon points="458.4,310 455.6,304.5 461.2,304.5" fill="#8a8a8a"/>
<text x="461.80" y="305.52" font-size="9" text-anchor="start" font-weight="bold" fill="#1a1a1a" textLength="31.70" lengthAdjust="spacingAndGlyphs"><tspan font-style="italic">P</tspan> = 0.01</text>
<text x="277.20" y="486.78" font-size="10" text-anchor="start" font-weight="bold" fill="#1a1a1a" textLength="15.20" lengthAdjust="spacingAndGlyphs">(iii)</text>
<line x1="307.60" y1="582.50" x2="414.00" y2="582.50" stroke="#8c8c8c" stroke-width="0.9"/>
<line x1="307.60" y1="561.10" x2="414.00" y2="561.10" stroke="#8c8c8c" stroke-width="0.9"/>
<line x1="307.60" y1="539.70" x2="414.00" y2="539.70" stroke="#8c8c8c" stroke-width="0.9"/>
<line x1="307.60" y1="518.30" x2="414.00" y2="518.30" stroke="#8c8c8c" stroke-width="0.9"/>
<line x1="307.60" y1="496.90" x2="414.00" y2="496.90" stroke="#8c8c8c" stroke-width="0.9"/>
<rect x="312.80" y="545.05" width="17.00" height="58.85" fill="#858585"/>
<rect x="312.80" y="496.90" width="17.00" height="48.15" fill="#2cb74e"/>
<line x1="321.30" y1="497.00" x2="321.30" y2="500.50" stroke="#2a2a2a" stroke-width="1"/>
<line x1="319.55" y1="497.00" x2="323.05" y2="497.00" stroke="#2a2a2a" stroke-width="1"/>
<line x1="319.55" y1="500.50" x2="323.05" y2="500.50" stroke="#2a2a2a" stroke-width="1"/>
<line x1="321.30" y1="544.50" x2="321.30" y2="548.60" stroke="#2a2a2a" stroke-width="1"/>
<line x1="319.55" y1="544.50" x2="323.05" y2="544.50" stroke="#2a2a2a" stroke-width="1"/>
<line x1="319.55" y1="548.60" x2="323.05" y2="548.60" stroke="#2a2a2a" stroke-width="1"/>
<rect x="339.20" y="559.50" width="17.00" height="44.40" fill="#858585"/>
<rect x="339.20" y="496.90" width="17.00" height="62.60" fill="#2cb74e"/>
<line x1="347.70" y1="497.00" x2="347.70" y2="500.50" stroke="#2a2a2a" stroke-width="1"/>
<line x1="345.95" y1="497.00" x2="349.45" y2="497.00" stroke="#2a2a2a" stroke-width="1"/>
<line x1="345.95" y1="500.50" x2="349.45" y2="500.50" stroke="#2a2a2a" stroke-width="1"/>
<line x1="347.70" y1="558.30" x2="347.70" y2="562.90" stroke="#2a2a2a" stroke-width="1"/>
<line x1="345.95" y1="558.30" x2="349.45" y2="558.30" stroke="#2a2a2a" stroke-width="1"/>
<line x1="345.95" y1="562.90" x2="349.45" y2="562.90" stroke="#2a2a2a" stroke-width="1"/>
<rect x="366.20" y="584.64" width="16.90" height="19.26" fill="#858585"/>
<rect x="366.20" y="524.72" width="16.90" height="59.92" fill="#2cb74e"/>
<rect x="366.20" y="496.90" width="16.90" height="27.82" fill="#fdc522"/>
<line x1="374.65" y1="493.70" x2="374.65" y2="497.00" stroke="#2a2a2a" stroke-width="1"/>
<line x1="372.90" y1="493.70" x2="376.40" y2="493.70" stroke="#2a2a2a" stroke-width="1"/>
<line x1="372.90" y1="497.00" x2="376.40" y2="497.00" stroke="#2a2a2a" stroke-width="1"/>
<line x1="374.65" y1="524.20" x2="374.65" y2="525.20" stroke="#2a2a2a" stroke-width="1"/>
<line x1="372.90" y1="524.20" x2="376.40" y2="524.20" stroke="#2a2a2a" stroke-width="1"/>
<line x1="372.90" y1="525.20" x2="376.40" y2="525.20" stroke="#2a2a2a" stroke-width="1"/>
<line x1="374.65" y1="584.40" x2="374.65" y2="588.50" stroke="#2a2a2a" stroke-width="1"/>
<line x1="372.90" y1="584.40" x2="376.40" y2="584.40" stroke="#2a2a2a" stroke-width="1"/>
<line x1="372.90" y1="588.50" x2="376.40" y2="588.50" stroke="#2a2a2a" stroke-width="1"/>
<rect x="392.50" y="582.50" width="17.50" height="21.40" fill="#858585"/>
<rect x="392.50" y="543.77" width="17.50" height="38.73" fill="#2cb74e"/>
<rect x="392.50" y="496.90" width="17.50" height="46.87" fill="#fdc522"/>
<line x1="401.25" y1="489.40" x2="401.25" y2="497.00" stroke="#2a2a2a" stroke-width="1"/>
<line x1="399.50" y1="489.40" x2="403.00" y2="489.40" stroke="#2a2a2a" stroke-width="1"/>
<line x1="399.50" y1="497.00" x2="403.00" y2="497.00" stroke="#2a2a2a" stroke-width="1"/>
<line x1="401.25" y1="543.80" x2="401.25" y2="546.70" stroke="#2a2a2a" stroke-width="1"/>
<line x1="399.50" y1="543.80" x2="403.00" y2="543.80" stroke="#2a2a2a" stroke-width="1"/>
<line x1="399.50" y1="546.70" x2="403.00" y2="546.70" stroke="#2a2a2a" stroke-width="1"/>
<line x1="401.25" y1="582.50" x2="401.25" y2="585.20" stroke="#2a2a2a" stroke-width="1"/>
<line x1="399.50" y1="582.50" x2="403.00" y2="582.50" stroke="#2a2a2a" stroke-width="1"/>
<line x1="399.50" y1="585.20" x2="403.00" y2="585.20" stroke="#2a2a2a" stroke-width="1"/>
<line x1="307.60" y1="488.80" x2="307.60" y2="604.40" stroke="#3a3a3a" stroke-width="1.3"/>
<line x1="307.60" y1="603.90" x2="414.00" y2="603.90" stroke="#3a3a3a" stroke-width="1.3"/>
<text x="289.40" y="501.64" font-size="11" text-anchor="start" font-weight="normal" fill="#1a1a1a" textLength="16.20" lengthAdjust="spacingAndGlyphs">100</text>
<text x="294.80" y="523.24" font-size="11" text-anchor="start" font-weight="normal" fill="#1a1a1a" textLength="10.80" lengthAdjust="spacingAndGlyphs">80</text>
<text x="294.80" y="544.74" font-size="11" text-anchor="start" font-weight="normal" fill="#1a1a1a" textLength="10.80" lengthAdjust="spacingAndGlyphs">60</text>
<text x="294.80" y="565.44" font-size="11" text-anchor="start" font-weight="normal" fill="#1a1a1a" textLength="10.80" lengthAdjust="spacingAndGlyphs">40</text>
<text x="294.80" y="586.44" font-size="11" text-anchor="start" font-weight="normal" fill="#1a1a1a" textLength="10.80" lengthAdjust="spacingAndGlyphs">20</text>
<text x="300.20" y="605.34" font-size="11" text-anchor="start" font-weight="normal" fill="#1a1a1a" textLength="5.40" lengthAdjust="spacingAndGlyphs">0</text>
<text x="283.40" y="550.00" font-size="10" text-anchor="middle" font-weight="normal" fill="#1a1a1a" transform="rotate(-90 283.40 550.00)">% Cell division</text>
<text x="326.20" y="646.80" font-size="10.3" text-anchor="start" font-weight="normal" fill="#1a1a1a" textLength="31.5" lengthAdjust="spacingAndGlyphs" transform="rotate(-90 326.20 646.80)">Control</text>
<text x="351.20" y="646.80" font-size="10.3" text-anchor="start" font-weight="normal" fill="#1a1a1a" textLength="30.5" lengthAdjust="spacingAndGlyphs" transform="rotate(-90 351.20 646.80)">EGFL6</text>
<text x="378.30" y="646.80" font-size="10.3" text-anchor="start" font-weight="normal" fill="#1a1a1a" textLength="31.5" lengthAdjust="spacingAndGlyphs" transform="rotate(-90 378.30 646.80)">Control</text>
<text x="403.10" y="646.80" font-size="10.3" text-anchor="start" font-weight="normal" fill="#1a1a1a" textLength="30.5" lengthAdjust="spacingAndGlyphs" transform="rotate(-90 403.10 646.80)">EGFL6</text>
<line x1="315.40" y1="651.00" x2="355.20" y2="651.00" stroke="#333" stroke-width="0.9"/>
<line x1="367.70" y1="651.00" x2="407.00" y2="651.00" stroke="#333" stroke-width="0.9"/>
<text x="318.70" y="663.49" font-size="10.3" text-anchor="start" font-weight="normal" fill="#1a1a1a" textLength="25.70" lengthAdjust="spacingAndGlyphs">ALDH</text>
<line x1="345.10" y1="656.90" x2="350.40" y2="656.90" stroke="#1a1a1a" stroke-width="1.1"/>
<text x="368.60" y="663.49" font-size="10.3" text-anchor="start" font-weight="normal" fill="#1a1a1a" textLength="25.80" lengthAdjust="spacingAndGlyphs">ALDH</text>
<line x1="395.60" y1="656.60" x2="400.40" y2="656.60" stroke="#1a1a1a" stroke-width="1.1"/>
<line x1="398.00" y1="654.20" x2="398.00" y2="659.00" stroke="#1a1a1a" stroke-width="1.1"/>
<polyline points="376.9,486.2 376.9,478.1 387.7,478.1 387.7,482.5" fill="none" stroke="#8a8a8a" stroke-width="1"/>
<polygon points="387.7,487.5 384.9,482 390.5,482" fill="#8a8a8a"/>
<text x="392.50" y="483.22" font-size="9" text-anchor="start" font-weight="bold" fill="#1a1a1a" textLength="36.70" lengthAdjust="spacingAndGlyphs"><tspan font-style="italic">P</tspan> = 0.026</text>
<rect x="443.80" y="548.90" width="15.20" height="55.50" fill="#cd4b4b"/>
<rect x="459.00" y="511.70" width="15.40" height="92.70" fill="#4a80c8"/>
<rect x="479.20" y="575.00" width="14.50" height="29.40" fill="#cd4b4b"/>
<rect x="493.70" y="565.30" width="15.70" height="39.10" fill="#4a80c8"/>
<line x1="451.40" y1="548.90" x2="451.40" y2="543.60" stroke="#8a2020" stroke-width="1.1"/>
<line x1="449.80" y1="543.60" x2="453.00" y2="543.60" stroke="#8a2020" stroke-width="1.1"/>
<line x1="466.70" y1="511.70" x2="466.70" y2="502.10" stroke="#1f3f7a" stroke-width="1.1"/>
<line x1="465.10" y1="502.10" x2="468.30" y2="502.10" stroke="#1f3f7a" stroke-width="1.1"/>
<line x1="486.45" y1="575.00" x2="486.45" y2="572.30" stroke="#8a2020" stroke-width="1.1"/>
<line x1="484.85" y1="572.30" x2="488.05" y2="572.30" stroke="#8a2020" stroke-width="1.1"/>
<line x1="501.55" y1="565.30" x2="501.55" y2="562.90" stroke="#1f3f7a" stroke-width="1.1"/>
<line x1="499.95" y1="562.90" x2="503.15" y2="562.90" stroke="#1f3f7a" stroke-width="1.1"/>
<line x1="441.40" y1="489.60" x2="441.40" y2="604.90" stroke="#1a1a1a" stroke-width="1.0"/>
<line x1="441.40" y1="604.40" x2="520.00" y2="604.40" stroke="#1a1a1a" stroke-width="1.1"/>
<text x="439.30" y="511.34" font-size="11" text-anchor="end" font-weight="normal" fill="#1a1a1a">4</text>
<text x="439.30" y="561.74" font-size="11" text-anchor="end" font-weight="normal" fill="#1a1a1a">2</text>
<text x="438.80" y="610.14" font-size="11" text-anchor="end" font-weight="normal" fill="#1a1a1a">0</text>
<text x="428.90" y="555.60" font-size="9.7" text-anchor="middle" font-weight="normal" fill="#1a1a1a" transform="rotate(-90 428.90 555.60)">Average cell #/well</text>
<text x="440.20" y="624.96" font-size="10.5" text-anchor="start" font-weight="normal" fill="#1a1a1a" textLength="31.30" lengthAdjust="spacingAndGlyphs">ALDH+</text>
<text x="484.00" y="623.96" font-size="10.5" text-anchor="start" font-weight="normal" fill="#1a1a1a" textLength="29.70" lengthAdjust="spacingAndGlyphs">ALDH-</text>
<polyline points="454.6,496.5 454.6,486.4 466,486.4 466,491.5" fill="none" stroke="#8a8a8a" stroke-width="1"/>
<polygon points="466,496.5 463.2,491 468.8,491" fill="#8a8a8a"/>
<text x="473.90" y="491.32" font-size="9" text-anchor="start" font-weight="bold" fill="#1a1a1a" textLength="31.40" lengthAdjust="spacingAndGlyphs"><tspan font-style="italic">P</tspan> = 0.09</text>
</svg></body></html>
